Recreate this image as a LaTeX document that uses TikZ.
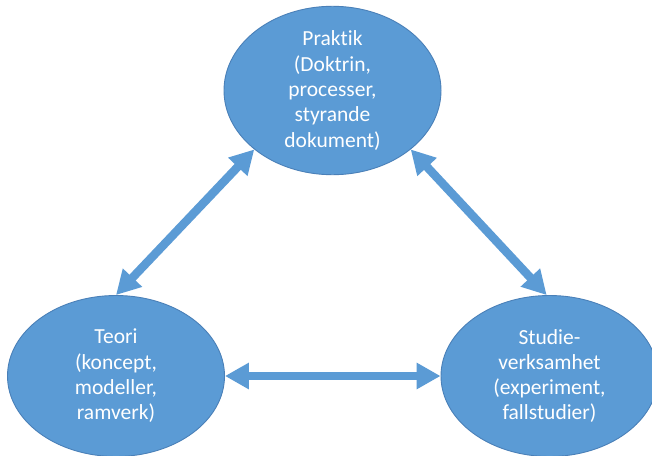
\documentclass[tikz,border=0pt]{standalone}
\usepackage{fontspec}
\setmainfont{Carlito}[Ligatures={NoCommon}]
\usetikzlibrary{arrows.meta,shapes.geometric}
\definecolor{offblue}{HTML}{5B9BD5}
\definecolor{offedge}{HTML}{4A80B8}
\begin{document}
\begin{tikzpicture}[x=1pt,y=-1pt,
  bubble/.style={ellipse, fill=offblue, draw=offedge, line width=0.9pt,
    minimum width=217pt, minimum height=161pt, inner sep=0pt,
    text=white, align=center, font=\fontsize{21.5}{25.3}\selectfont},
  link/.style={draw=offblue, line width=8.5pt,
    {Triangle[width=25pt,length=24pt,fill=offblue]}-{Triangle[width=25pt,length=24pt,fill=offblue]}}]
\clip (0,0) rectangle (652,455);
\fill[white] (0,0) rectangle (652,455);
\node[bubble] (prak) at (332.5,90.5) {Praktik\\(Doktrin,\\processer,\\styrande\\dokument)};
\node[bubble] (teori) at (116,376) {Teori\\(koncept,\\modeller,\\ramverk)};
\node[bubble] (studie) at (549.5,376) {Studie-\\verksamhet\\(experiment,\\fallstudier)};
\draw[link] (prak.217) -- (teori.north);
\draw[link] (prak.323) -- (studie.92);
\draw[link] (teori.east) -- (studie.west);
\end{tikzpicture}
\end{document}
